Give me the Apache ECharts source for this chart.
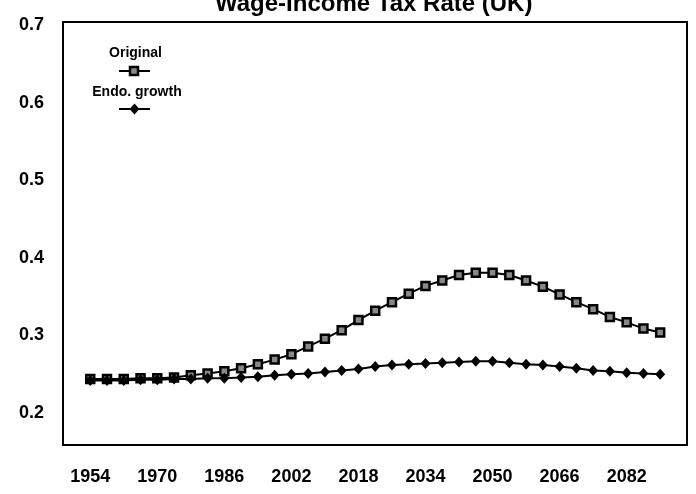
<!DOCTYPE html>
<html>
<head>
<meta charset="utf-8">
<script src="https://cdn.jsdelivr.net/npm/echarts@6/dist/echarts.min.js"></script>
<style>html,body{margin:0;padding:0;background:#fff;}#c{width:696px;height:494px;}</style>
</head>
<body>
<div id="c"></div>
<script>
const years = [1954,1958,1962,1966,1970,1974,1978,1982,1986,1990,1994,1998,2002,2006,2010,2014,2018,2022,2026,2030,2034,2038,2042,2046,2050,2054,2058,2062,2066,2070,2074,2078,2082,2086,2090];
const original = [0.240,0.240,0.240,0.241,0.241,0.242,0.245,0.247,0.250,0.254,0.259,0.265,0.272,0.282,0.292,0.303,0.316,0.328,0.339,0.350,0.360,0.367,0.374,0.377,0.377,0.374,0.367,0.359,0.349,0.339,0.330,0.320,0.313,0.305,0.300];
const endoGrowth = [0.238,0.238,0.238,0.239,0.239,0.240,0.240,0.241,0.241,0.242,0.243,0.245,0.246,0.247,0.249,0.251,0.253,0.256,0.258,0.259,0.260,0.261,0.262,0.263,0.263,0.261,0.259,0.258,0.256,0.254,0.251,0.250,0.248,0.247,0.246];
const xTickLabels = [1954,1970,1986,2002,2018,2034,2050,2066,2082];
const yTickLabels = [0.2,0.3,0.4,0.5,0.6,0.7];
const seriesNames = ['Original','Endo. growth'];
const titleText = 'Wage-Income Tax Rate (UK)';

const chart = echarts.init(document.getElementById('c'), null, {renderer:'canvas'});
const font = 'Liberation Sans, Arial, sans-serif';
chart.setOption({
  animation:false,
  backgroundColor:'#fff',
  title:{text:titleText,left:215,top:-8,padding:0,
    textStyle:{fontFamily:font,fontSize:24,fontWeight:'bold',color:'#000'}},
  grid:{left:63,top:22,right:9,bottom:49,show:true,borderColor:'#000',borderWidth:2,backgroundColor:'transparent'},
  xAxis:{type:'value',min:1947.5,max:2096.4,
    axisLine:{show:false},axisTick:{show:false},splitLine:{show:false},
    axisLabel:{customValues:xTickLabels,margin:23,fontFamily:font,fontSize:18,fontWeight:'bold',color:'#000',formatter:v=>String(v)}},
  yAxis:{type:'value',min:0.155,max:0.7,
    axisLine:{show:false},axisTick:{show:false},splitLine:{show:false},
    axisLabel:{customValues:yTickLabels,margin:19,verticalAlign:'top',lineHeight:6,fontFamily:font,fontSize:18,fontWeight:'bold',color:'#000',formatter:v=>v.toFixed(1)}},
  series:[
    {name:seriesNames[0],type:'line',data:years.map((y,i)=>[y,original[i]]),
      symbol:'rect',symbolSize:8,showAllSymbol:true,
      lineStyle:{color:'#000',width:2},
      itemStyle:{color:'#888',borderColor:'#000',borderWidth:2.5},z:2},
    {name:seriesNames[1],type:'line',data:years.map((y,i)=>[y,endoGrowth[i]]),
      symbol:'diamond',symbolSize:[10,11],showAllSymbol:true,
      lineStyle:{color:'#000',width:2},
      itemStyle:{color:'#000',borderColor:'#000',borderWidth:0},z:3}
  ],
  graphic:[
    {type:'text',x:135.5,y:53,style:{text:seriesNames[0],font:'bold 14px '+font,fill:'#000',align:'center',verticalAlign:'middle'}},
    {type:'line',shape:{x1:119,y1:71,x2:150,y2:71},style:{stroke:'#000',lineWidth:2}},
    {type:'rect',shape:{x:130,y:67,width:8,height:8},style:{fill:'#888',stroke:'#000',lineWidth:2.5}},
    {type:'text',x:137,y:92,style:{text:seriesNames[1],font:'bold 14px '+font,fill:'#000',align:'center',verticalAlign:'middle'}},
    {type:'line',shape:{x1:119,y1:109,x2:150,y2:109},style:{stroke:'#000',lineWidth:2}},
    {type:'polygon',shape:{points:[[134.5,103.5],[139.5,109],[134.5,114.5],[129.5,109]]},style:{fill:'#000'}}
  ]
});
</script>
</body>
</html>
